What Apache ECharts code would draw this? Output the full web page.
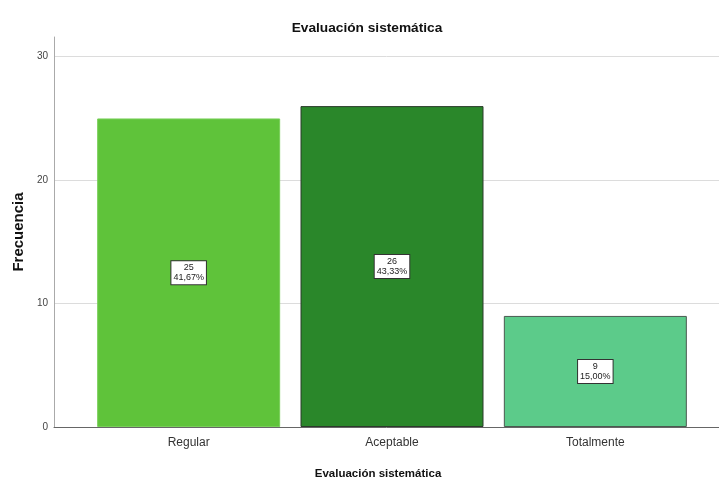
<!DOCTYPE html>
<html>
<head>
<meta charset="utf-8">
<script src="https://cdn.jsdelivr.net/npm/echarts@6/dist/echarts.min.js"></script>
<style>html,body{margin:0;padding:0;background:#fff}#c{width:719px;height:482px}</style>
</head>
<body>
<div id="c"></div>
<script>
const categories = ['Regular', 'Aceptable', 'Totalmente'];
const counts = [25, 26, 9];
const percents = ['41,67%', '43,33%', '15,00%'];
const barColors = ['#5fc33a', '#2a872a', '#5ccb8a'];
const barBorders = ['#78cf58', '#2b3a2b', '#4a5a50'];
const yTicks = [0, 10, 20, 30];

const chart = echarts.init(document.getElementById('c'), null, {renderer: 'canvas'});
const FONT = '"Liberation Sans", Arial, sans-serif';
const Y_MAX = 31.6;
chart.setOption({
  animation: false,
  backgroundColor: '#fff',
  title: {
    text: 'Evaluación sistemática',
    left: 362, top: 16, textAlign: 'center',
    textStyle: {fontFamily: FONT, fontSize: 13.7, fontWeight: 'bold', color: '#111'}
  },
  grid: [
    {left: 54, right: 0, top: 37, bottom: 55, containLabel: false, outerBoundsMode: 'none'},
    {left: 87, right: 22, top: 37, bottom: 55, containLabel: false, outerBoundsMode: 'none'}
  ],
  xAxis: [{
    gridIndex: 0, type: 'value', min: 0, max: 1,
    name: 'Evaluación sistemática', nameLocation: 'middle', nameGap: 41,
    nameTextStyle: {fontFamily: FONT, fontSize: 11.5, fontWeight: 'bold', color: '#111', padding: [0, 17, 0, 0]},
    axisLine: {show: true, onZero: false, lineStyle: {color: '#666', width: 1}},
    axisTick: {show: false},
    splitLine: {show: false},
    axisLabel: {show: false}
  }, {
    gridIndex: 1, type: 'category', data: categories,
    axisLine: {show: false},
    axisTick: {show: false},
    splitLine: {show: false},
    axisLabel: {margin: 10, fontFamily: FONT, fontSize: 12, color: '#333'}
  }],
  yAxis: [{
    gridIndex: 0, type: 'value', min: 0, max: Y_MAX, interval: 10,
    name: 'Frecuencia', nameLocation: 'middle', nameGap: 28,
    nameTextStyle: {fontFamily: FONT, fontSize: 15, fontWeight: 'bold', color: '#111'},
    axisLine: {show: true, onZero: false, lineStyle: {color: '#aaa', width: 1}},
    axisTick: {show: false},
    axisLabel: {
      margin: 6, fontFamily: FONT, fontSize: 10, color: '#444',
      formatter: v => yTicks.includes(v) ? String(v) : ''
    },
    splitLine: {show: true, lineStyle: {color: ['#dcdcdc', '#dcdcdc', '#dcdcdc', '#dcdcdc', 'rgba(0,0,0,0)'], width: 1}}
  }, {
    gridIndex: 1, type: 'value', min: 0, max: Y_MAX, interval: 10,
    show: false
  }],
  series: [{
    type: 'bar',
    xAxisIndex: 1, yAxisIndex: 1,
    barWidth: 183,
    data: counts.map((v, i) => ({
      value: v,
      itemStyle: {color: barColors[i], borderColor: barBorders[i], borderWidth: 1}
    })),
    label: {
      show: true, position: 'inside',
      formatter: p => counts[p.dataIndex] + '\n' + percents[p.dataIndex],
      fontFamily: FONT, fontSize: 9, lineHeight: 10, color: '#222',
      backgroundColor: '#fff', borderColor: '#333', borderWidth: 1, padding: [2, 2, 1, 2]
    }
  }]
});
</script>
</body>
</html>
